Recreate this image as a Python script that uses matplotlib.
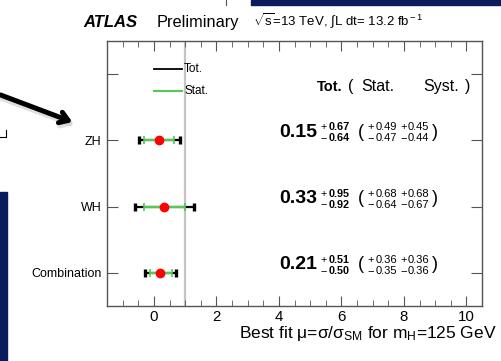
import matplotlib
matplotlib.use("Agg")
import matplotlib.pyplot as plt
from matplotlib.patches import Rectangle, FancyArrowPatch
from matplotlib.lines import Line2D

plt.rcParams['font.family'] = ['Liberation Sans', 'DejaVu Sans']
plt.rcParams['mathtext.fontset'] = 'custom'
plt.rcParams['mathtext.rm'] = 'Liberation Sans'
plt.rcParams['mathtext.it'] = 'Liberation Sans:italic'
plt.rcParams['mathtext.bf'] = 'Liberation Sans:bold'

# data
categories = ["ZH", "WH", "Combination"]
mu = [0.15, 0.33, 0.21]
tot_up = [0.67, 0.95, 0.51]
tot_dn = [0.64, 0.92, 0.50]
stat_up = [0.49, 0.68, 0.36]
stat_dn = [0.47, 0.64, 0.35]
syst_up = [0.45, 0.68, 0.36]
syst_dn = [0.44, 0.67, 0.36]
xticks = [0, 2, 4, 6, 8, 10]

W, H = 501, 361
fig = plt.figure(figsize=(W / 100, H / 100), dpi=100)

def fx(p):
    return p / W

def fy(p):
    return 1 - p / H

ax = fig.add_axes([fx(107), fy(306), fx(482) - fx(107), fy(41) - fy(306)])

n = len(categories)
ypos = [n - 1 - i for i in range(n)]
green = '#55c855'

ax.axvline(1, color='#c4c4c4', lw=1.6, zorder=1)

for i in range(n):
    y = ypos[i]
    ax.errorbar(mu[i], y, xerr=[[tot_dn[i]], [tot_up[i]]], fmt='none',
                ecolor='black', elinewidth=1.6, capsize=3, capthick=2.4, zorder=2)
    ax.errorbar(mu[i], y, xerr=[[stat_dn[i]], [stat_up[i]]], fmt='none',
                ecolor=green, elinewidth=1.6, capsize=2.6, capthick=1.2, zorder=3)
    ax.plot(mu[i], y, 'o', color='red', ms=6, mec='red', zorder=4)

    # numbers on the right: value, total up/down, (stat, syst)
    up = y + 0.195
    dn = y + 0.03
    ax.text(5.24, y + 0.12, "%.2f" % mu[i], ha='right', va='center',
            fontsize=14, fontweight='bold')
    ax.text(5.42, up, "+", ha='center', va='center', fontsize=7.8)
    ax.text(5.58, up, "%.2f" % tot_up[i], ha='left', va='center',
            fontsize=7.8, fontweight='bold')
    ax.text(5.42, dn, "\u2212", ha='center', va='center', fontsize=7.8)
    ax.text(5.58, dn, "%.2f" % tot_dn[i], ha='left', va='center',
            fontsize=7.8, fontweight='bold')
    ax.text(6.63, y + 0.12, "(", ha='center', va='center', fontsize=13)
    ax.text(8.98, y + 0.12, ")", ha='center', va='center', fontsize=13)
    ax.text(6.94, up, "+", ha='center', va='center', fontsize=8)
    ax.text(7.08, up, "%.2f" % stat_up[i], ha='left', va='center', fontsize=8)
    ax.text(6.94, dn, "\u2212", ha='center', va='center', fontsize=8)
    ax.text(7.08, dn, "%.2f" % stat_dn[i], ha='left', va='center', fontsize=8)
    ax.text(7.99, up, "+", ha='center', va='center', fontsize=8)
    ax.text(8.13, up, "%.2f" % syst_up[i], ha='left', va='center', fontsize=8)
    ax.text(7.99, dn, "\u2212", ha='center', va='center', fontsize=8)
    ax.text(8.13, dn, "%.2f" % syst_dn[i], ha='left', va='center', fontsize=8)

# header
ax.text(6.05, 2.81, "Tot.", ha='right', va='center', fontsize=10.5, fontweight='bold')
ax.text(6.3, 2.81, "(", ha='center', va='center', fontsize=11.5)
ax.text(7.16, 2.81, "Stat.", ha='center', va='center', fontsize=11.5)
ax.text(9.19, 2.81, "Syst.", ha='center', va='center', fontsize=11.5)
ax.text(10.05, 2.81, ")", ha='center', va='center', fontsize=11.5)

# legend
ax.plot([0, 0.89], [3.08, 3.08], color='black', lw=1.3)
ax.plot([0, 0.89], [2.74, 2.74], color=green, lw=1.5)
ax.text(0.97, 3.08, "Tot.", ha='left', va='center', fontsize=8.5)
ax.text(0.97, 2.74, "Stat.", ha='left', va='center', fontsize=8.5)

ax.set_xlim(-1.5, 10.5)
ax.set_ylim(-0.5, 3.5)
ax.set_xticks(xticks)
ax.set_xticks([v * 0.5 - 1 for v in range(23)], minor=True)
ax.set_yticks(ypos + [3])
ax.set_yticklabels(categories + [""])
ax.tick_params(axis='x', which='major', direction='in', top=True, length=7,
               labelsize=10.8, pad=3, color='#555555')
ax.tick_params(axis='x', which='minor', direction='in', top=True, length=4.5,
               color='#555555')
ax.tick_params(axis='y', which='major', direction='in', right=True, length=8,
               labelsize=9, pad=4, color='#555555')
ax.tick_params(axis='y', which='minor', left=False, right=False)
for s in ax.spines.values():
    s.set_color('#555555')
    s.set_linewidth(1)

fig.text(fx(497), fy(338), r"Best fit μ=σ/σ$_{\rm SM}$ for m$_{\rm H}$=125 GeV",
         ha='right', va='baseline', fontsize=12.5)

# header line above plot
fig.text(fx(83), fy(27), "ATLAS", ha='left', va='baseline', fontsize=12,
         fontweight='bold', fontstyle='italic')
fig.text(fx(157), fy(27), "Preliminary", ha='left', va='baseline', fontsize=11.8)
fig.text(fx(253), fy(26), r"$\sqrt{\rm s}$=13 TeV, $\int$L dt= 13.2 fb$^{\rm -1}$",
         ha='left', va='baseline', fontsize=9.5)

# leftovers of the slide around the plot
fig.patches.append(Rectangle((fx(251), fy(4.5)), fx(250), fy(0) - fy(4.5),
                             transform=fig.transFigure, color='#0c1b5c'))
fig.patches.append(Rectangle((fx(0), fy(361)), fx(7), fy(192) - fy(361),
                             transform=fig.transFigure, color='#0c1b5c'))
fig.lines.append(Line2D([fx(226), fx(226)], [fy(0), fy(5)], transform=fig.transFigure,
                        color='#555555', lw=0.8))
fig.lines.append(Line2D([fx(0), fx(6), fx(6)], [fy(137), fy(137), fy(130)],
                        transform=fig.transFigure, color='black', lw=0.8))
fig.patches.append(FancyArrowPatch(
    (fx(-2), fy(97)), (fx(77), fy(126)), transform=fig.transFigure,
    arrowstyle='->,head_length=6,head_width=4', lw=4, color='#cccccc', alpha=0.6))
fig.patches.append(FancyArrowPatch(
    (fx(-2), fy(94)), (fx(75), fy(123)), transform=fig.transFigure,
    arrowstyle='->,head_length=6,head_width=4', lw=3.6, color='black'))

fig.savefig("out.png", dpi=100)
